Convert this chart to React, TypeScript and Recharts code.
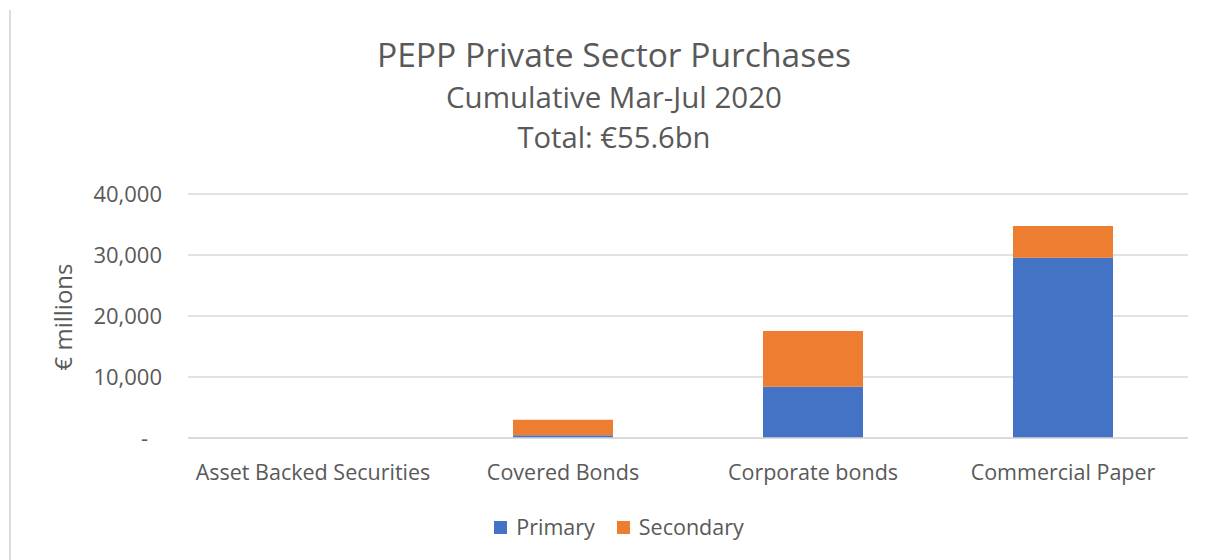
import React from "react";
import { Bar, BarChart, CartesianGrid, XAxis, YAxis } from "recharts";

const categories = ["Asset Backed Securities", "Covered Bonds", "Corporate bonds", "Commercial Paper"];
const primary = [0, 450, 8400, 29550];
const secondary = [0, 2550, 9150, 5200];
const yTicks = [0, 10000, 20000, 30000, 40000];
const titleLines = ["PEPP Private Sector Purchases", "Cumulative Mar-Jul 2020", "Total: €55.6bn"];
const seriesNames = ["Primary", "Secondary"];
const seriesColors = ["#4472C4", "#ED7D31"];

const data = categories.map((name, i) => ({
  name,
  primary: primary[i],
  secondary: secondary[i],
}));

const FONT = "'Open Sans', sans-serif";
const TEXT = "#595959";
const GRID = "#d9d9d9";

function YTick(props: any) {
  const { x, y, payload } = props;
  const v = payload.value as number;
  const label = v === 0 ? "-" : v.toLocaleString("en-US");
  return (
    <text
      x={v === 0 ? x - 14 : x}
      y={y}
      dy="0.36em"
      textAnchor="end"
      fill={TEXT}
      fontSize={22}
      fontFamily={FONT}
    >
      {label}
    </text>
  );
}

function XTick(props: any) {
  const { x, y, payload } = props;
  return (
    <text x={x} y={y + 40} textAnchor="middle" fill={TEXT} fontSize={21.5} fontFamily={FONT}>
      {payload.value}
    </text>
  );
}

export default function App() {
  return (
    <div
      style={{
        position: "absolute",
        left: 0,
        top: 0,
        width: 1208,
        height: 560,
        background: "#fff",
        fontFamily: FONT,
        overflow: "hidden",
      }}
    >
      <div style={{ position: "absolute", left: 9, top: 10, width: 2, height: 550, background: "#dcdcdc" }} />
      <BarChart width={1208} height={560} data={data} margin={{ top: 194, right: 20, left: 0, bottom: 82 }}>
        <CartesianGrid vertical={false} stroke={GRID} strokeWidth={1.5} />
        <XAxis
          dataKey="name"
          height={40}
          axisLine={{ stroke: GRID, strokeWidth: 1.5 }}
          tickLine={false}
          tickSize={0}
          tick={<XTick />}
          interval={0}
        />
        <YAxis
          width={188}
          domain={[0, 40000]}
          ticks={yTicks}
          axisLine={false}
          tickLine={false}
          tickSize={0}
          tickMargin={26}
          tick={<YTick />}
        />
        <Bar dataKey="primary" stackId="a" fill={seriesColors[0]} barSize={100} isAnimationActive={false} />
        <Bar dataKey="secondary" stackId="a" fill={seriesColors[1]} barSize={100} isAnimationActive={false} />
      </BarChart>
      <svg
        width={1208}
        height={560}
        style={{ position: "absolute", left: 0, top: 0, pointerEvents: "none" }}
      >
        <text x={614} y={67} textAnchor="middle" fill={TEXT} fontSize={33.6} fontFamily={FONT}>
          {titleLines[0]}
        </text>
        <text x={614} y={108} textAnchor="middle" fill={TEXT} fontSize={29.5} fontFamily={FONT}>
          {titleLines[1]}
        </text>
        <text x={614} y={148} textAnchor="middle" fill={TEXT} fontSize={29.2} fontFamily={FONT}>
          {titleLines[2]}
        </text>
        <text
          x={72}
          y={317}
          transform="rotate(-90 72 317)"
          textAnchor="middle"
          fill={TEXT}
          fontSize={24}
          fontFamily={FONT}
        >
          € millions
        </text>
      </svg>
      <div
        style={{
          position: "absolute",
          left: 0,
          top: 512,
          width: 1238,
          display: "flex",
          justifyContent: "center",
          gap: 22,
          color: TEXT,
          fontSize: 21.5,
          lineHeight: "30px",
        }}
      >
        {seriesNames.map((n, i) => (
          <div key={n} style={{ display: "flex", alignItems: "center" }}>
            <span style={{ width: 13, height: 13, background: seriesColors[i], marginRight: 9, display: "inline-block" }} />
            <span>{n}</span>
          </div>
        ))}
      </div>
    </div>
  );
}
